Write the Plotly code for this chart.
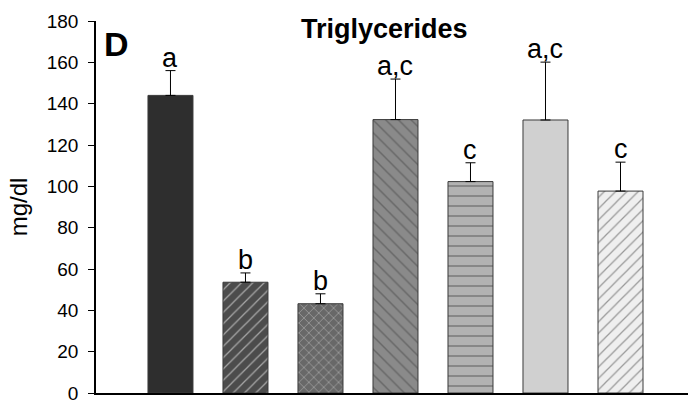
import plotly.graph_objects as go

groups = ["G1", "G2", "G3", "G4", "G5", "G6", "G7"]
values = [144, 53.6, 43.2, 132.3, 102.3, 132.1, 97.7]
errors = [12, 4.5, 4.8, 19.6, 9.1, 28, 14]
letters = ["a", "b", "b", "a,c", "c", "a,c", "c"]
fill_colors = ["#2e2e2e", "#4c4c4c", "#686868", "#8a8a8a", "#b2b2b2", "#d0d0d0", "#efefef"]
pattern_shapes = ["", "/", "x", "\\", "-", "", "/"]
pattern_sizes = [8, 8, 7, 9, 10, 8, 8]
y_ticks = [0, 20, 40, 60, 80, 100, 120, 140, 160, 180]

FONT = "Liberation Sans, Arial, sans-serif"

fig = go.Figure()
fig.add_trace(go.Bar(
    x=groups, y=values, width=0.6,
    marker=dict(
        color=fill_colors,
        line=dict(color="#3a3a3a", width=1),
        pattern=dict(shape=pattern_shapes, fgcolor="#111111",
                     size=pattern_sizes, solidity=0.16, fillmode="overlay"),
    ),
    error_y=dict(type="data", array=errors, arrayminus=[0]*len(errors), symmetric=False,
                 color="black", thickness=1, width=5),
    showlegend=False,
))

for g, v, e, t in zip(groups, values, errors, letters):
    fig.add_annotation(x=g, y=v + e, text=t, showarrow=False, yanchor="bottom",
                       yshift=-4, font=dict(family=FONT, size=27, color="black"))

fig.add_annotation(xref="paper", yref="paper", x=0.488, y=0.978, text="<b>Triglycerides</b>",
                   xanchor="center", yanchor="middle",
                   showarrow=False, font=dict(family=FONT, size=27, color="black"))
fig.add_annotation(xref="paper", yref="paper", x=0.035, y=0.938, text="<b>D</b>",
                   xanchor="center", yanchor="middle",
                   showarrow=False, font=dict(family=FONT, size=34, color="black"))

fig.update_layout(
    width=688, height=404,
    margin=dict(l=96, r=0, t=21, b=7),
    paper_bgcolor="white", plot_bgcolor="white",
    font=dict(family=FONT, color="black"),
    bargap=0.4,
)
fig.update_xaxes(type="category", range=[-0.993, 6.9], showticklabels=False, ticks="",
                 showline=True, linecolor="black", linewidth=1.5, showgrid=False, zeroline=False)
fig.update_yaxes(range=[0, 180], tickvals=y_ticks, ticks="outside", ticklen=6, tickcolor="black",
                 showline=True, linecolor="black", linewidth=1.5, showgrid=False, zeroline=False,
                 tickfont=dict(family=FONT, size=19, color="black"), ticklabelstandoff=6,
                 ticklabeloverflow="allow",
                 title=dict(text="mg/dl", font=dict(family=FONT, size=24, color="black"), standoff=12))

fig.write_html("out.html", config={"displayModeBar": False},
               post_script="document.body.style.margin='0';")
